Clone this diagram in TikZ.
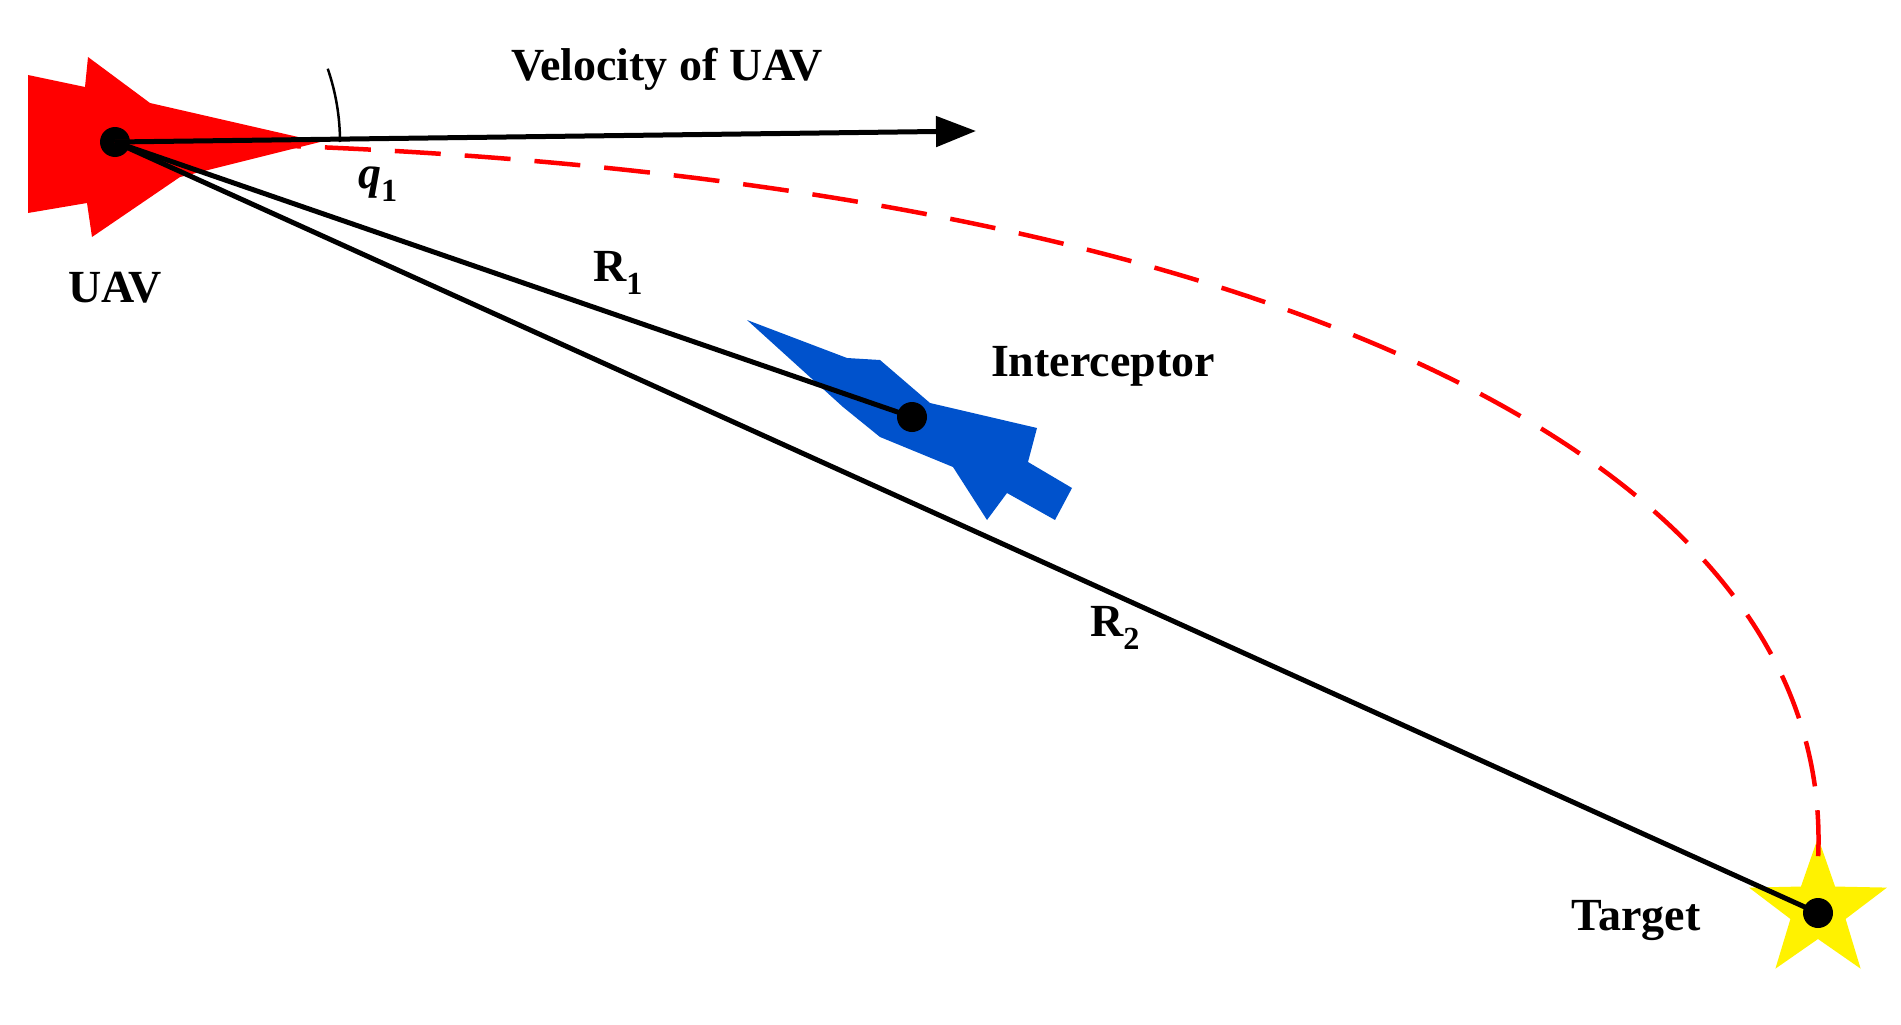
\documentclass[tikz,border=0pt]{standalone}
\usepackage{fontspec}
\setmainfont{Liberation Serif}
\usetikzlibrary{shapes.geometric,arrows.meta,calc}
\begin{document}
\begin{tikzpicture}[x=1pt,y=-1pt,
  lbl/.style={font=\fontsize{46}{50}\selectfont\bfseries, inner sep=0pt},
  dot/.style={circle, fill=black, inner sep=0pt, minimum size=30pt},
  ln/.style={line width=5pt, black}]
\useasboundingbox (0,0) rectangle (1901,1025);
% UAV shape
\fill[red] (28,75) -- (85,87) -- (88,57) -- (150,103) -- (320,142) -- (180,177) -- (92,237) -- (87,203) -- (28,213) -- cycle;
% interceptor shape
\fill[blue!60!cyan!80!black] (747,320) -- (847,358) -- (880,360) -- (930,403) -- (1037,428) -- (1028,462) -- (1072,488) -- (1055,520) -- (1007,493) -- (987,520) -- (953,467) -- (880,437) -- (843,407) -- cycle;
% star
\node[star, star points=5, star point ratio=2.5, fill=yellow, minimum size=145pt, inner sep=0pt] (star) at (1818,910) {};
\node[dot] (uav) at (115,142) {};
\node[dot] (int) at (912,417) {};
\node[dot] (tgt) at (1818,913) {};
\coordinate (vel) at (976,131);
\draw[red, line width=4.5pt, dash pattern=on 46pt off 24pt] (uav.center) .. controls (1150,150) and (1840,420) .. (1818,860);
\draw[ln, -{Triangle[length=40pt,width=30pt]}] (uav.center) -- (vel);
\draw[ln] (uav.center) -- (int.center);
\draw[ln] (uav.center) -- (tgt.center);
\draw[line width=2.5pt] ($(uav.center)+(225,0)$) arc[start angle=0, end angle=-19, radius=225];
\node[lbl] (tv) at (667,69) {Velocity of UAV};
\node[lbl] (tq) at (378,184) {\textit{q}\textsubscript{1}};
\node[lbl] (tu) at (115,288) {UAV};
\node[lbl] (tr1) at (618,273) {R\textsubscript{1}};
\node[lbl] (ti) at (1103,366) {Interceptor};
\node[lbl] (tr2) at (1115,628) {R\textsubscript{2}};
\node[lbl] (tt) at (1636,921) {Target};
\end{tikzpicture}
\end{document}
